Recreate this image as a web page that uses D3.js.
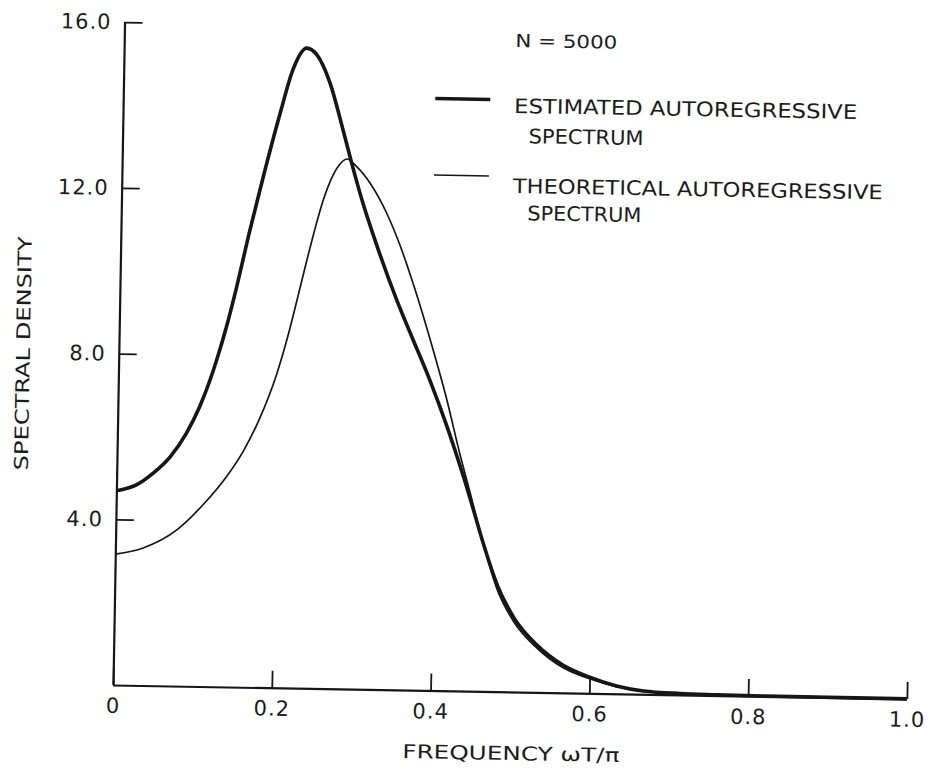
<!DOCTYPE html>
<html>
<head>
<meta charset="utf-8">
<script src="https://cdn.jsdelivr.net/npm/d3@7/dist/d3.min.js"></script>
<style>
  html, body { margin: 0; padding: 0; background: #ffffff; }
  svg { display: block; }
  text { font-family: "DejaVu Sans", "Liberation Sans", sans-serif; fill: #1c1c1c; }
</style>
</head>
<body>
<svg id="chart" width="931" height="779"></svg>
<script>
// ---- data ----
const estFreq = [0, 0.025, 0.046, 0.067, 0.087, 0.103, 0.1155, 0.1235, 0.135, 0.147, 0.1625, 0.178, 0.198, 0.213, 0.230, 0.243, 0.260, 0.2775, 0.289, 0.304, 0.3225, 0.349, 0.370, 0.3925, 0.4145, 0.436, 0.450, 0.462, 0.482, 0.503, 0.533, 0.566, 0.600, 0.634, 0.668, 0.714, 0.76, 0.82, 0.90, 1.0];
const estDensity = [4.69, 4.84, 5.13, 5.53, 6.11, 6.75, 7.40, 7.89, 8.69, 9.66, 11.04, 12.32, 13.87, 14.92, 15.45, 15.29, 14.62, 13.49, 12.70, 11.74, 10.72, 9.40, 8.47, 7.48, 6.40, 5.22, 4.38, 3.64, 2.56, 1.80, 1.14, 0.67, 0.39, 0.19, 0.08, 0.035, 0.02, 0.01, 0.005, 0.0];

const theoFreq = [0, 0.035, 0.077, 0.110, 0.1385, 0.159, 0.179, 0.199, 0.212, 0.2225, 0.232, 0.2425, 0.253, 0.263, 0.273, 0.283, 0.2955, 0.3126, 0.334, 0.352, 0.372, 0.394, 0.414, 0.432, 0.4453, 0.455, 0.465, 0.481, 0.502, 0.533, 0.566, 0.600, 0.634, 0.668, 0.714, 0.76, 0.82, 0.90, 1.0];
const theoDensity = [3.16, 3.32, 3.77, 4.40, 5.08, 5.70, 6.50, 7.55, 8.45, 9.30, 10.10, 10.95, 11.72, 12.27, 12.63, 12.79, 12.61, 12.22, 11.51, 10.72, 9.65, 8.33, 7.03, 5.70, 4.80, 4.12, 3.45, 2.50, 1.73, 1.07, 0.61, 0.35, 0.17, 0.07, 0.03, 0.015, 0.008, 0.004, 0.0];

const xTicks = [0, 0.2, 0.4, 0.6, 0.8, 1.0];
const yTicks = [4, 8, 12, 16];
const xTitle = "FREQUENCY \u03c9T/\u03c0";
const yTitle = "SPECTRAL DENSITY";
const sampleNote = "N = 5000";
const legendLabels = [["ESTIMATED AUTOREGRESSIVE", "SPECTRUM"], ["THEORETICAL AUTOREGRESSIVE", "SPECTRUM"]];

// ---- layout ----
const ox = 113, oy = 685;
const svg = d3.select("#chart");
svg.append("rect").attr("width", 931).attr("height", 779).attr("fill", "#ffffff");
// the scanned figure is tilted by about one degree
const g = svg.append("g").attr("transform", `rotate(1,${ox},${oy})`);

const x = d3.scaleLinear().domain([0, 1]).range([ox, 907]);
const y = d3.scaleLinear().domain([0, 16]).range([oy, 22]);

const ink = "#161616";

// y axis
const yAxis = d3.axisLeft(y).tickValues(yTicks).tickFormat(d3.format(".1f"))
  .tickSizeInner(-18).tickSizeOuter(0).tickPadding(13);
const gy = g.append("g").attr("transform", `translate(${ox},0)`).call(yAxis);
gy.select(".domain").attr("d", `M0.5,${y(0)}V${y(16)}`).attr("stroke", ink).attr("stroke-width", 2.2);
gy.selectAll(".tick line").attr("stroke", ink).attr("stroke-width", 1.8);
gy.selectAll(".tick text").attr("font-size", 21).attr("fill", "#1c1c1c")
  .attr("font-family", "DejaVu Sans, sans-serif").attr("letter-spacing", 1);

// x axis
const xAxis = d3.axisBottom(x).tickValues(xTicks)
  .tickFormat(d => d === 0 ? "0" : d3.format(".1f")(d))
  .tickSizeInner(-17).tickSizeOuter(0).tickPadding(13);
const gx = g.append("g").attr("transform", `translate(0,${oy})`).call(xAxis);
gx.select(".domain").attr("d", `M${x(0)},0.5H${x(1)}`).attr("stroke", ink).attr("stroke-width", 2.2);
gx.selectAll(".tick line").attr("stroke", ink).attr("stroke-width", 1.8);
gx.selectAll(".tick text").attr("font-size", 21).attr("fill", "#1c1c1c")
  .attr("font-family", "DejaVu Sans, sans-serif").attr("letter-spacing", 1);

// axis titles
g.append("text").attr("x", 512).attr("y", 753).attr("text-anchor", "middle")
  .attr("font-size", 19).attr("textLength", 217).attr("lengthAdjust", "spacingAndGlyphs")
  .text(xTitle);
g.append("text").attr("transform", "translate(24,355) rotate(-90)").attr("text-anchor", "middle")
  .attr("font-size", 19).attr("textLength", 234).attr("lengthAdjust", "spacingAndGlyphs")
  .text(yTitle);

// curves
const line = d3.line().x(d => x(d[0])).y(d => y(d[1])).curve(d3.curveMonotoneX);
g.append("path").datum(theoFreq.map((f, i) => [f, theoDensity[i]]))
  .attr("d", line).attr("fill", "none").attr("stroke", ink).attr("stroke-width", 1.7);
g.append("path").datum(estFreq.map((f, i) => [f, estDensity[i]]))
  .attr("d", line).attr("fill", "none").attr("stroke", ink).attr("stroke-width", 3.6)
  .attr("stroke-linejoin", "round");

// legend
g.append("text").attr("x", 504).attr("y", 40).attr("font-size", 18)
  .attr("textLength", 102).attr("lengthAdjust", "spacingAndGlyphs").text(sampleNote);

const legendRows = [
  { y1: 93, w: 3.6, t1: 106, t2: 136, len1: 343, len2: 115 },
  { y1: 169.5, w: 1.6, t1: 186, t2: 213, len1: 370, len2: 114 }
];
legendRows.forEach((r, i) => {
  g.append("line").attr("x1", 425).attr("x2", 480).attr("y1", r.y1).attr("y2", r.y1)
    .attr("stroke", ink).attr("stroke-width", r.w);
  g.append("text").attr("x", 504).attr("y", r.t1).attr("font-size", 20)
    .attr("textLength", r.len1).attr("lengthAdjust", "spacingAndGlyphs").text(legendLabels[i][0]);
  g.append("text").attr("x", 519).attr("y", r.t2).attr("font-size", 20)
    .attr("textLength", r.len2).attr("lengthAdjust", "spacingAndGlyphs").text(legendLabels[i][1]);
});
</script>
</body>
</html>
